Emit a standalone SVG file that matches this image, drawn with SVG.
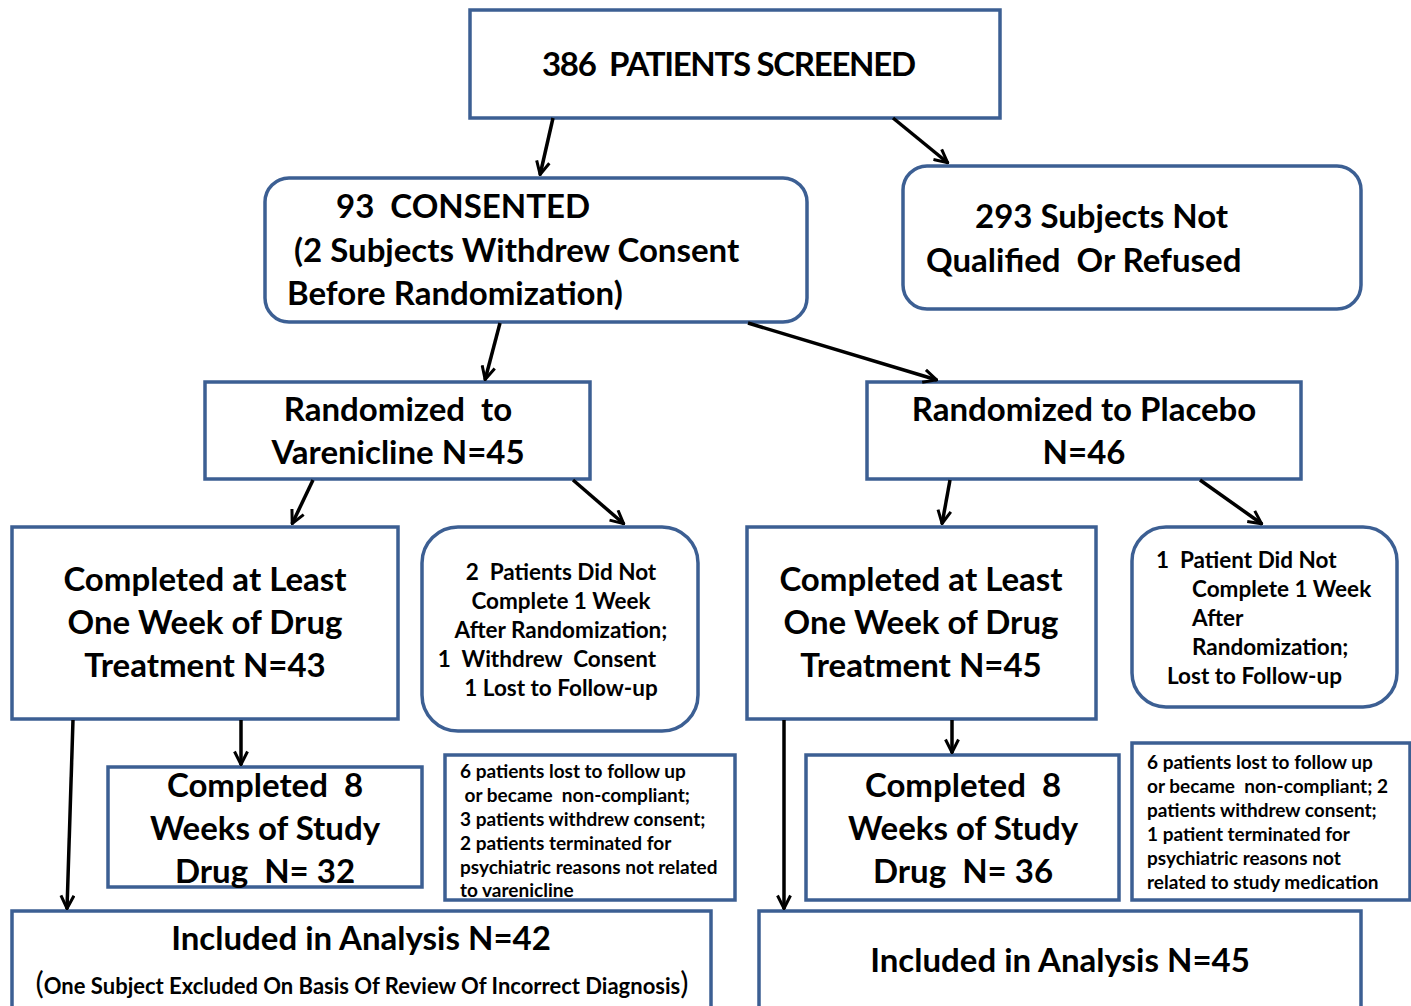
<svg xmlns="http://www.w3.org/2000/svg" width="1411" height="1006" viewBox="0 0 1411 1006">
<defs>
<marker id="ah" viewBox="0 0 16 16" refX="15" refY="8" markerWidth="16" markerHeight="16" markerUnits="userSpaceOnUse" orient="auto">
<path d="M1.5,1.5 L14.5,8 L1.5,14.5" fill="none" stroke="#000" stroke-width="3" stroke-linejoin="miter"/>
</marker>
<style>
.box{fill:#fff;stroke:#3c5f93;stroke-width:3.5}
.t{font-family:Lato,"Liberation Sans",sans-serif;font-weight:bold;fill:#000}
.big{font-size:33px}
.mid{font-size:22.5px}
.sm{font-size:19px}
.c{text-anchor:middle}
.cn{stroke:#000;stroke-width:3.5;fill:none;marker-end:url(#ah)}
</style>
</defs>
<rect width="1411" height="1006" fill="#fff"/>

<g id="screened">
<rect class="box" x="470" y="10" width="530" height="108"/>
<text class="t big" x="542" y="76" textLength="374" xml:space="preserve">386  PATIENTS SCREENED</text>
</g>

<g id="consented">
<rect class="box" x="265" y="178" width="542" height="144" rx="24"/>
<text class="t big" x="336" y="218" xml:space="preserve">93  CONSENTED</text>
<text class="t big" x="294" y="262">(2 Subjects Withdrew Consent</text>
<text class="t big" x="287" y="305">Before Randomization)</text>
</g>

<g id="notqualified">
<rect class="box" x="903" y="166" width="458" height="143" rx="24"/>
<text class="t big" x="975" y="228">293 Subjects Not</text>
<text class="t big" x="926" y="272" xml:space="preserve">Qualified  Or Refused</text>
</g>

<g id="varenicline">
<rect class="box" x="205" y="382" width="385" height="97"/>
<text class="t big c" x="398" y="421" xml:space="preserve">Randomized  to</text>
<text class="t big c" x="398" y="464">Varenicline N=45</text>
</g>

<g id="placebo">
<rect class="box" x="867" y="382" width="434" height="97"/>
<text class="t big c" x="1084" y="421">Randomized to Placebo</text>
<text class="t big c" x="1084" y="464">N=46</text>
</g>

<g id="var-week">
<rect class="box" x="12" y="527" width="386" height="192"/>
<text class="t big c" x="205" y="591">Completed at Least</text>
<text class="t big c" x="205" y="634">One Week of Drug</text>
<text class="t big c" x="205" y="677">Treatment N=43</text>
</g>

<g id="var-dropout">
<rect class="box" x="422" y="527" width="276" height="204" rx="36"/>
<text class="t mid c" x="561" y="580" xml:space="preserve">2  Patients Did Not</text>
<text class="t mid c" x="561" y="609">Complete 1 Week</text>
<text class="t mid c" x="561" y="638">After Randomization;</text>
<text class="t mid c" x="547" y="667" xml:space="preserve">1  Withdrew  Consent</text>
<text class="t mid c" x="561" y="696">1 Lost to Follow-up</text>
</g>

<g id="pla-week">
<rect class="box" x="747" y="527" width="349" height="192"/>
<text class="t big c" x="921" y="591">Completed at Least</text>
<text class="t big c" x="921" y="634">One Week of Drug</text>
<text class="t big c" x="921" y="677">Treatment N=45</text>
</g>

<g id="pla-dropout">
<rect class="box" x="1132" y="527" width="265" height="180" rx="34"/>
<text class="t mid" x="1156" y="568" xml:space="preserve">1  Patient Did Not</text>
<text class="t mid" x="1192" y="597">Complete 1 Week</text>
<text class="t mid" x="1192" y="626">After</text>
<text class="t mid" x="1192" y="655">Randomization;</text>
<text class="t mid" x="1167" y="684">Lost to Follow-up</text>
</g>

<g id="var-8wk">
<rect class="box" x="108" y="767" width="314" height="120"/>
<text class="t big c" x="265" y="797" xml:space="preserve">Completed  8</text>
<text class="t big c" x="265" y="840">Weeks of Study</text>
<text class="t big c" x="265" y="883" xml:space="preserve">Drug  N= 32</text>
</g>

<g id="var-reasons">
<rect class="box" x="445" y="755" width="290" height="145"/>
<text class="t sm" x="460" y="778">6 patients lost to follow up</text>
<text class="t sm" x="460" y="802" xml:space="preserve"> or became  non-compliant;</text>
<text class="t sm" x="460" y="826">3 patients withdrew consent;</text>
<text class="t sm" x="460" y="850">2 patients terminated for</text>
<text class="t sm" x="460" y="874">psychiatric reasons not related</text>
<text class="t sm" x="460" y="897">to varenicline</text>
</g>

<g id="pla-8wk">
<rect class="box" x="806" y="755" width="313" height="145"/>
<text class="t big c" x="963" y="797" xml:space="preserve">Completed  8</text>
<text class="t big c" x="963" y="840">Weeks of Study</text>
<text class="t big c" x="963" y="883" xml:space="preserve">Drug  N= 36</text>
</g>

<g id="pla-reasons">
<rect class="box" x="1132" y="743" width="278" height="157"/>
<text class="t sm" x="1147" y="769">6 patients lost to follow up</text>
<text class="t sm" x="1147" y="793" xml:space="preserve">or became  non-compliant; 2</text>
<text class="t sm" x="1147" y="817">patients withdrew consent;</text>
<text class="t sm" x="1147" y="841">1 patient terminated for</text>
<text class="t sm" x="1147" y="865">psychiatric reasons not</text>
<text class="t sm" x="1147" y="889">related to study medication</text>
</g>

<g id="var-analysis">
<rect class="box" x="12" y="911" width="699" height="110"/>
<text class="t big c" x="361" y="950">Included in Analysis N=42</text>
<text class="t c" x="362" y="994"><tspan font-size="31" font-weight="normal">(</tspan><tspan font-size="22">One Subject Excluded On Basis Of Review Of Incorrect Diagnosis</tspan><tspan font-size="31" font-weight="normal">)</tspan></text>
</g>

<g id="pla-analysis">
<rect class="box" x="759" y="911" width="602" height="110"/>
<text class="t big c" x="1060" y="972">Included in Analysis N=45</text>
</g>

<g id="connectors">
<line class="cn" x1="553" y1="118" x2="540" y2="175"/>
<line class="cn" x1="893" y1="118" x2="948" y2="163"/>
<line class="cn" x1="500" y1="323" x2="485" y2="380"/>
<line class="cn" x1="748" y1="323" x2="937" y2="380"/>
<line class="cn" x1="313" y1="480" x2="292" y2="524"/>
<line class="cn" x1="573" y1="480" x2="624" y2="524"/>
<line class="cn" x1="950" y1="480" x2="942" y2="524"/>
<line class="cn" x1="1200" y1="480" x2="1262" y2="524"/>
<line class="cn" x1="73" y1="720" x2="67" y2="909"/>
<line class="cn" x1="241" y1="720" x2="241" y2="765"/>
<line class="cn" x1="784" y1="720" x2="784" y2="909"/>
<line class="cn" x1="952" y1="720" x2="952" y2="753"/>
</g>
</svg>
